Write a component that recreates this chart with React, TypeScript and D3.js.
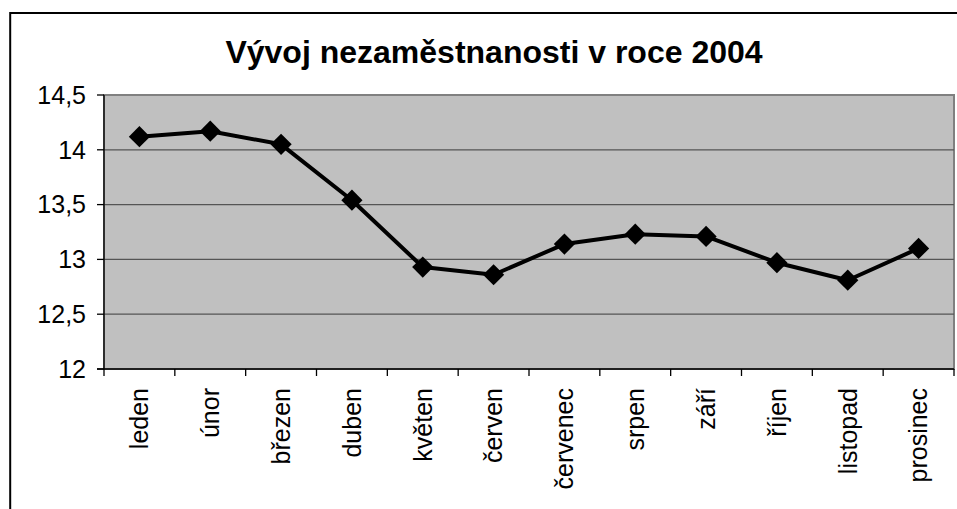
import React from "react";
import * as d3 from "d3";

const categories = ["leden", "únor", "březen", "duben", "květen", "červen", "červenec", "srpen", "září", "říjen", "listopad", "prosinec"];
const values = [14.12, 14.17, 14.05, 13.54, 12.93, 12.86, 13.14, 13.23, 13.21, 12.97, 12.81, 13.1];
const yTicks = [12, 12.5, 13, 13.5, 14, 14.5];
const title = "Vývoj nezaměstnanosti v roce 2004";

const W = 957;
const H = 509;
const plot = { left: 104, right: 954, top: 95, bottom: 369 };
const FONT = "'Liberation Sans', Arial, sans-serif";

export default function App() {
  const x = d3.scaleBand<string>().domain(categories).range([plot.left, plot.right]).padding(0);
  const y = d3.scaleLinear().domain([12, 14.5]).range([plot.bottom, plot.top]);
  const fmt = (v: number) => String(v).replace(".", ",");
  const line = d3
    .line<number>()
    .x((_, i) => (x(categories[i]) as number) + x.bandwidth() / 2)
    .y((v) => y(v));
  const marker = d3.symbol().type(d3.symbolSquare).size(225)() as string;
  const boundaries = [...categories.map((c) => x(c) as number), plot.right];

  return (
    <svg width={W} height={H} style={{ position: "absolute", left: 0, top: 0, background: "#fff" }}>
      {/* outer chart border */}
      <line x1={10.2} x2={W + 5} y1={13} y2={13} stroke="#000" strokeWidth={2} />
      <line x1={10.2} x2={10.2} y1={12} y2={H + 5} stroke="#000" strokeWidth={2} />

      <text x={494} y={63} textAnchor="middle" fontFamily={FONT} fontWeight="bold" fontSize={32} fill="#000">
        {title}
      </text>

      {/* plot area */}
      <rect x={plot.left} y={plot.top} width={plot.right - plot.left} height={plot.bottom - plot.top} fill="#C0C0C0" stroke="#808080" strokeWidth={2} />

      {/* gridlines */}
      {yTicks.slice(1, -1).map((t) => (
        <line key={t} x1={plot.left} x2={plot.right} y1={y(t)} y2={y(t)} stroke="#555" strokeWidth={1.3} />
      ))}

      {/* axes */}
      <line x1={plot.left} x2={plot.left} y1={plot.top} y2={plot.bottom} stroke="#000" strokeWidth={1.3} />
      <line x1={plot.left - 7} x2={plot.right} y1={plot.bottom} y2={plot.bottom} stroke="#000" strokeWidth={1.3} />

      {yTicks.map((t) => (
        <g key={t}>
          <line x1={plot.left - 7} x2={plot.left} y1={y(t)} y2={y(t)} stroke="#000" strokeWidth={1.3} />
          <text x={86} y={y(t)} dy="0.35em" textAnchor="end" fontFamily={FONT} fontSize={25} fill="#000">
            {fmt(t)}
          </text>
        </g>
      ))}

      {boundaries.map((b, i) => (
        <line key={i} x1={b} x2={b} y1={plot.bottom} y2={plot.bottom + 7} stroke="#000" strokeWidth={1.3} />
      ))}

      {categories.map((c) => {
        const cx = (x(c) as number) + x.bandwidth() / 2;
        return (
          <text
            key={c}
            transform={`translate(${cx},388) rotate(-90)`}
            dy="0.35em"
            textAnchor="end"
            fontFamily={FONT}
            fontSize={25}
            fill="#000"
          >
            {c}
          </text>
        );
      })}

      <path d={line(values) as string} fill="none" stroke="#000" strokeWidth={4} strokeLinejoin="round" />
      {values.map((v, i) => (
        <path
          key={i}
          d={marker}
          transform={`translate(${(x(categories[i]) as number) + x.bandwidth() / 2},${y(v)}) rotate(45)`}
          fill="#000"
        />
      ))}
    </svg>
  );
}
